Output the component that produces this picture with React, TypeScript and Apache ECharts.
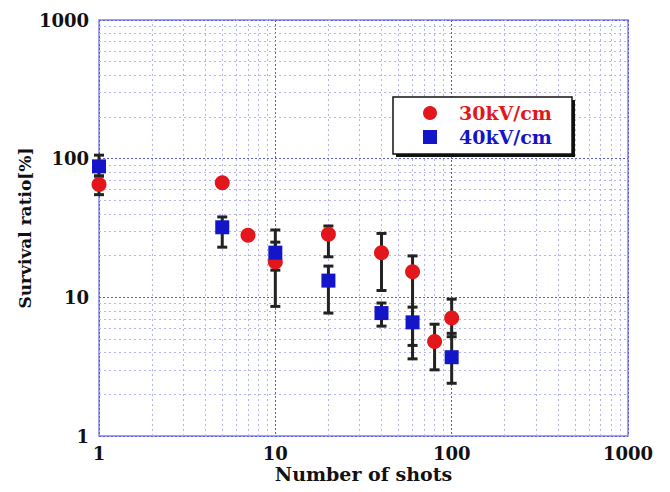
import React, { useEffect, useRef } from "react";
import * as echarts from "echarts";

// ---- data ----
const shots30 = [1, 5, 7, 10, 20, 40, 60, 80, 100];
const ratio30 = [65, 67, 28, 18, 28.5, 21, 15.3, 4.8, 7.1];
const low30 = [55, 67, 28, 8.6, 19.6, 11.2, 3.6, 3.0, 5.2];
const high30 = [75, 67, 28, 25, 32.7, 28.9, 19.9, 6.4, 9.7];

const shots40 = [1, 5, 10, 20, 40, 60, 100];
const ratio40 = [88, 32, 21, 13.2, 7.7, 6.6, 3.7];
const low40 = [75, 23, 15.7, 7.7, 6.2, 4.5, 2.4];
const high40 = [106, 38, 30.6, 16.8, 9.1, 8.5, 5.5];

const axisTicks = [1, 10, 100, 1000];
const minorLines = [2, 3, 4, 5, 6, 7, 8, 9, 20, 30, 40, 50, 60, 70, 80, 90, 200, 300, 400, 500, 600, 700, 800, 900];

const seriesNames = ["30kV/cm", "40kV/cm"];

const FONT = "DejaVu Serif";
const RED = "#e3161c";
const BLUE = "#1414c8";

export default function App() {
  const ref = useRef<HTMLDivElement>(null);
  useEffect(() => {
    const chart = echarts.init(ref.current as HTMLDivElement, null, { renderer: "svg" });

    const errData30 = shots30
      .map((x, i) => [x, low30[i], high30[i]])
      .filter((d) => d[1] !== d[2]);
    const errData40 = shots40.map((x, i) => [x, low40[i], high40[i]]);

    const renderErr = (params: any, api: any) => {
      const x = api.value(0);
      const lo = api.coord([x, api.value(1)]);
      const hi = api.coord([x, api.value(2)]);
      const cap = 5;
      const style = { stroke: "#222", lineWidth: 3 };
      return {
        type: "group",
        children: [
          { type: "line", shape: { x1: lo[0], y1: lo[1], x2: hi[0], y2: hi[1] }, style },
          { type: "line", shape: { x1: lo[0] - cap, y1: lo[1], x2: lo[0] + cap, y2: lo[1] }, style },
          { type: "line", shape: { x1: hi[0] - cap, y1: hi[1], x2: hi[0] + cap, y2: hi[1] }, style },
        ],
      };
    };

    const minorStyle = { type: [2, 3], color: "#b4b4f0", width: 1 };
    const majorStyle = { type: [2, 2], color: "#5a5ae0", width: 1 };
    const labelFmt = (v: number) => String(v);

    const option: any = {
      animation: false,
      backgroundColor: "#ffffff",
      grid: {
        left: 99,
        right: 42,
        top: 20,
        bottom: 56,
        show: true,
        borderColor: "#8484e6",
        borderWidth: 1.5,
        backgroundColor: "#ffffff",
      },
      xAxis: {
        type: "log",
        logBase: 10,
        min: axisTicks[0],
        max: axisTicks[axisTicks.length - 1],
        name: "Number of shots",
        nameLocation: "middle",
        nameGap: 28,
        nameMoveOverlap: false,
        nameTextStyle: { fontFamily: FONT, fontWeight: "bold", fontSize: 19, color: "#111" },
        axisLine: { show: false },
        axisTick: { show: false },
        axisLabel: { fontFamily: FONT, fontWeight: "bold", fontSize: 18, color: "#111", margin: 8, formatter: labelFmt },
        splitLine: { show: true, lineStyle: majorStyle },
      },
      yAxis: {
        type: "log",
        logBase: 10,
        min: axisTicks[0],
        max: axisTicks[axisTicks.length - 1],
        name: "Survival ratio[%]",
        nameLocation: "middle",
        nameRotate: 90,
        nameGap: 66,
        nameMoveOverlap: false,
        nameTextStyle: { fontFamily: FONT, fontWeight: "bold", fontSize: 17, color: "#111" },
        axisLine: { show: false },
        axisTick: { show: false },
        axisLabel: { fontFamily: FONT, fontWeight: "bold", fontSize: 18, color: "#111", margin: 10, formatter: labelFmt },
        splitLine: { show: true, lineStyle: majorStyle },
      },
      legend: {
        orient: "vertical",
        left: 423,
        top: 103,
        padding: 0,
        itemWidth: 48,
        itemHeight: 14,
        itemGap: 4,
        symbolKeepAspect: true,
        textStyle: { fontFamily: FONT, fontWeight: "bold", fontSize: 19, lineHeight: 20 },
        data: [
          { name: seriesNames[0], icon: "circle", textStyle: { color: RED } },
          { name: seriesNames[1], icon: "path://M0,0H10V10H0Z", textStyle: { color: BLUE } },
        ],
        z: 8,
      },
      graphic: [
        { type: "rect", z: 6, shape: { x: 396, y: 100, width: 179, height: 57 }, style: { fill: "#111" } },
        {
          type: "rect",
          z: 7,
          shape: { x: 393, y: 97, width: 179, height: 57 },
          style: { fill: "#fff", stroke: "#111", lineWidth: 1.5 },
        },
      ],
      series: [
        {
          type: "scatter",
          name: "grid",
          data: [],
          silent: true,
          z: 1,
          markLine: {
            z: 1,
            silent: true,
            symbol: ["none", "none"],
            label: { show: false },
            animation: false,
            lineStyle: minorStyle,
            emphasis: { disabled: true },
            data: [
              ...minorLines.map((v) => ({ xAxis: v })),
              ...minorLines.map((v) => ({ yAxis: v })),
            ],
          },
        },
        {
          type: "custom",
          name: "err30",
          data: errData30,
          renderItem: renderErr,
          z: 3,
          silent: true,
        },
        {
          type: "custom",
          name: "err40",
          data: errData40,
          renderItem: renderErr,
          z: 3,
          silent: true,
        },
        {
          type: "scatter",
          name: seriesNames[0],
          symbol: "circle",
          symbolSize: 15,
          itemStyle: { color: RED, opacity: 1 },
          data: shots30.map((x, i) => [x, ratio30[i]]),
          z: 4,
        },
        {
          type: "scatter",
          name: seriesNames[1],
          symbol: "rect",
          symbolSize: 14,
          itemStyle: { color: BLUE, opacity: 1 },
          data: shots40.map((x, i) => [x, ratio40[i]]),
          z: 5,
        },
      ],
    };
    chart.setOption(option);
    return () => chart.dispose();
  }, []);
  return (
    <div
      ref={ref}
      style={{ position: "absolute", left: 0, top: 0, width: 670, height: 492, background: "#fff" }}
    />
  );
}
